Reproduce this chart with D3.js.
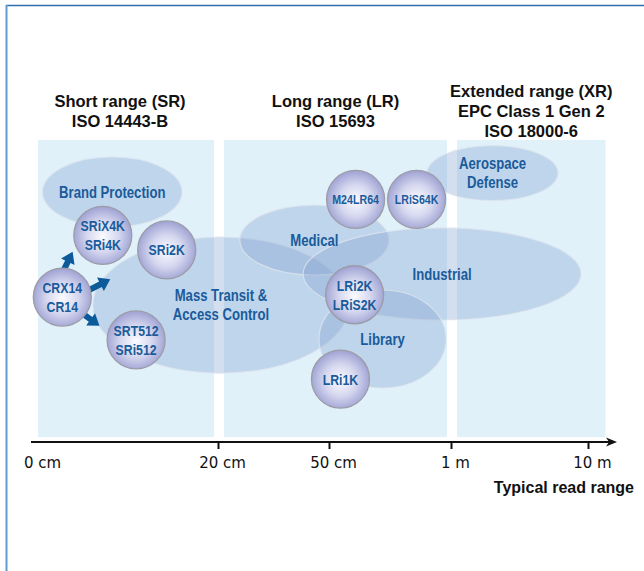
<!DOCTYPE html>
<html>
<head>
<meta charset="utf-8">
<script src="https://cdn.jsdelivr.net/npm/d3@7"></script>
<style>
  body { margin: 0; background: #fff; }
  svg { display: block; }
</style>
</head>
<body>
<svg id="chart" width="644" height="571"></svg>
<script>
const svg = d3.select("#chart");

// typical read range break points (cm) and the axis labels
const rangeStops = [0, 20, 50, 100, 1000];
const rangeLabels = ["0 cm", "20 cm", "50 cm", "1 m", "10 m"];

// standards bands (read range in cm)
const bandTitles = [
  ["Short range (SR)", "ISO 14443-B"],
  ["Long range (LR)", "ISO 15693"],
  ["Extended range (XR)", "EPC Class 1 Gen 2", "ISO 18000-6"]
];
const bandFrom = [0, 20, 100];
const bandTo = [20, 100, 1115];

// applications: read range span (cm) and vertical span (0..100)
const appNames = [
  ["Brand Protection"],
  ["Mass Transit &", "Access Control"],
  ["Medical"],
  ["Industrial"],
  ["Library"],
  ["Aerospace", "Defense"]
];
const appRangeMin = [0.5, 6.1, 25.9, 43, 47.3, 90.2];
const appRangeMax = [16, 58.2, 74.6, 954, 98, 803];
const appLow = [70.7, 21.5, 54.5, 39.4, 16.5, 79.6];
const appHigh = [94.3, 67.3, 78.1, 70.4, 49.5, 98.1];

// products: read range (cm) and vertical level (0..100)
const chipNames = [
  ["SRiX4K", "SRi4K"], ["SRi2K"], ["CRX14", "CR14"], ["SRT512", "SRi512"],
  ["M24LR64"], ["LRiS64K"], ["LRi2K", "LRiS2K"], ["LRi1K"]
];
const chipRange = [7.2, 14.3, 2.7, 10.9, 60.9, 85.9, 60.5, 54.7];
const chipLevel = [67.9, 63, 47.1, 32.7, 80, 80, 47.9, 19.5];

// arrows leaving the CRX14 reader chip
const arrowFrom = 2;
const arrowBaseAngle = [-88, -14, 39];
const arrowHeading = [-64, -27, 36];
const arrowLength = [21.5, 25.5, 21];

// Arial metrics squeezed horizontally ~ Arial Narrow
const sansFont = "'Liberation Sans', Arial, sans-serif";
const narrowScale = 0.82;
const textBlue = "#1a5b9b";
const chipR = 29;

// scales
const x = d3.scaleLinear().domain(rangeStops).range([38, 218, 329, 451, 588]);
const y = d3.scaleLinear().domain([0, 100]).range([437, 140]);

// frame lines (top + left)
svg.append("line").attr("x1", 6).attr("x2", 644).attr("y1", 5.5).attr("y2", 5.5)
  .attr("stroke", "#2f6ead").attr("stroke-width", 1.6);
svg.append("line").attr("x1", 6.5).attr("x2", 6.5).attr("y1", 5).attr("y2", 571)
  .attr("stroke", "#5f9bd3").attr("stroke-width", 2);

// bands
const bandG = svg.append("g");
bandTitles.forEach((title, i) => {
  const x0 = x(bandFrom[i]) + (i ? 6 : 0);
  const x1 = x(bandTo[i]) - (i < bandTitles.length - 1 ? 4 : 0);
  bandG.append("rect")
    .attr("x", x0).attr("y", y(100))
    .attr("width", x1 - x0).attr("height", y(0) - y(100))
    .attr("fill", "#e0f1fa");
  const t = bandG.append("text")
    .attr("text-anchor", "middle")
    .attr("font-family", sansFont)
    .attr("font-weight", "bold")
    .attr("font-size", "16.5px")
    .attr("fill", "#111");
  title.forEach((line, j) => {
    t.append("tspan")
      .attr("x", (x0 + x1) / 2 - (i === 0 ? 6 : 0))
      .attr("y", 117 + (j - (title.length - 1) / 2) * 20)
      .text(line);
  });
});

// application ellipses
const apps = appNames.map((name, i) => ({
  name,
  cx: (x(appRangeMin[i]) + x(appRangeMax[i])) / 2,
  rx: (x(appRangeMax[i]) - x(appRangeMin[i])) / 2,
  cy: (y(appLow[i]) + y(appHigh[i])) / 2,
  ry: (y(appLow[i]) - y(appHigh[i])) / 2
}));

svg.append("g").selectAll("ellipse")
  .data(apps)
  .enter().append("ellipse")
  .attr("cx", d => d.cx).attr("cy", d => d.cy)
  .attr("rx", d => d.rx).attr("ry", d => d.ry)
  .attr("fill", "rgb(128,160,205)")
  .attr("fill-opacity", 0.35)
  .attr("stroke", "#dde4ee")
  .attr("stroke-opacity", 0.8)
  .attr("stroke-width", 1.2);

// multi-line narrow label centred on (0,0)
function narrowLabel(sel, lines, fs, gap) {
  sel.attr("text-anchor", "middle")
    .attr("font-family", sansFont)
    .attr("font-weight", "bold")
    .attr("font-size", fs + "px")
    .attr("fill", textBlue);
  lines.forEach((line, j) => {
    sel.append("tspan")
      .attr("x", 0)
      .attr("y", (j - (lines.length - 1) / 2) * gap + fs * 0.36)
      .text(line);
  });
}

svg.append("g").selectAll("text")
  .data(apps)
  .enter().append("text")
  .attr("transform", d => `translate(${d.cx},${d.cy}) scale(${narrowScale},1)`)
  .each(function(d) { narrowLabel(d3.select(this), d.name, 16, 19); });

// axis
const axis = d3.axisBottom(x)
  .tickValues(rangeStops)
  .tickSize(7)
  .tickPadding(8)
  .tickFormat((d, i) => rangeLabels[i]);

const axisG = svg.append("g")
  .attr("transform", "translate(0,442)")
  .call(axis);
axisG.select(".domain").remove();
axisG.selectAll(".tick line")
  .attr("stroke", "#111").attr("stroke-width", 2)
  .attr("display", d => d === 0 ? "none" : null);
axisG.selectAll(".tick text")
  .attr("dx", 4)
  .attr("font-family", "'DejaVu Sans', sans-serif")
  .attr("font-size", "15px")
  .attr("fill", "#111");
axisG.append("line")
  .attr("x1", 31).attr("x2", 611).attr("y1", 0).attr("y2", 0)
  .attr("stroke", "#111").attr("stroke-width", 2);
axisG.append("path")
  .attr("d", "M617,0 L606,-4.5 L609,0 L606,4.5 Z")
  .attr("fill", "#111");

svg.append("text")
  .attr("x", 634).attr("y", 493)
  .attr("text-anchor", "end")
  .attr("font-family", sansFont)
  .attr("font-weight", "bold")
  .attr("font-size", "16px")
  .attr("fill", "#111")
  .text("Typical read range");

// chips
const chips = chipNames.map((name, i) => ({
  name, cx: x(chipRange[i]), cy: y(chipLevel[i])
}));

// arrows from reader
const rad = Math.PI / 180;
const src = chips[arrowFrom];
const arrowG = svg.append("g");
arrowBaseAngle.forEach((a, i) => {
  const bx = src.cx + (chipR - 3) * Math.cos(a * rad);
  const by = src.cy + (chipR - 3) * Math.sin(a * rad);
  const h = arrowHeading[i] * rad;
  const len = arrowLength[i];
  const ux = Math.cos(h), uy = Math.sin(h);
  const px = -uy, py = ux;
  const headLen = 11, headW = 7.5, shaftW = 3;
  const tx = bx + ux * len, ty = by + uy * len;
  const hx = tx - ux * headLen, hy = ty - uy * headLen;
  const pts = [
    [bx + px * shaftW, by + py * shaftW],
    [hx + px * shaftW, hy + py * shaftW],
    [hx + px * headW, hy + py * headW],
    [tx, ty],
    [hx - px * headW, hy - py * headW],
    [hx - px * shaftW, hy - py * shaftW],
    [bx - px * shaftW, by - py * shaftW]
  ];
  arrowG.append("path")
    .attr("d", d3.line()(pts) + "Z")
    .attr("fill", "#0d5a9b");
});

const defs = svg.append("defs");
const grad = defs.append("radialGradient")
  .attr("id", "chipGrad")
  .attr("cx", "50%").attr("cy", "52%").attr("r", "50%");
grad.append("stop").attr("offset", "0%").attr("stop-color", "#fbfbff");
grad.append("stop").attr("offset", "55%").attr("stop-color", "#d5d7ef");
grad.append("stop").attr("offset", "100%").attr("stop-color", "#a3a6d5");

const chipG = svg.append("g").selectAll("g")
  .data(chips)
  .enter().append("g")
  .attr("transform", d => `translate(${d.cx},${d.cy})`);

chipG.append("circle")
  .attr("r", chipR)
  .attr("fill", "url(#chipGrad)")
  .attr("stroke", "#9c9ca6")
  .attr("stroke-width", 1.3);

chipG.append("text")
  .attr("transform", `scale(${narrowScale},1)`)
  .each(function(d) {
    const fs = d.name.length === 1 && d.name[0].length >= 7 ? 13 : 15;
    narrowLabel(d3.select(this), d.name, fs, 19);
  });
</script>
</body>
</html>
